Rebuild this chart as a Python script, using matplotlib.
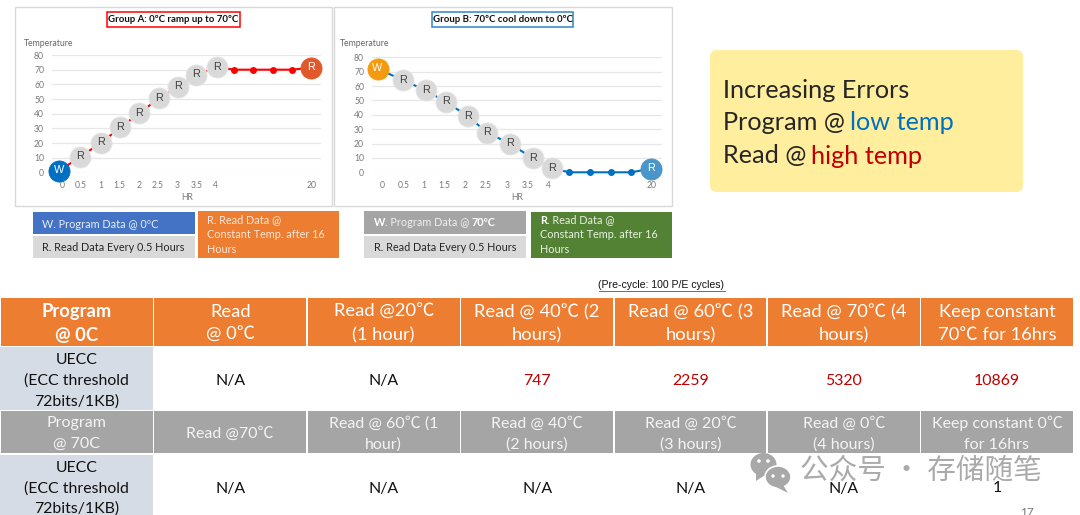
import matplotlib
matplotlib.use("Agg")
import matplotlib.pyplot as plt
from matplotlib.patches import Rectangle, FancyBboxPatch, Ellipse, Polygon

plt.rcParams['font.family'] = ['Lato', 'Noto Sans CJK SC', 'DejaVu Sans']

W, H = 1080, 515

# ---- chart data ----
hr_labels = ['0', '0.5', '1', '1.5', '2', '2.5', '3', '3.5', '4', '', '', '', '', '20']
y_ticks = [0, 10, 20, 30, 40, 50, 60, 70, 80]

a_pos = [-0.16, 0.94, 2.03, 3.04, 4.0, 5.05, 6.02, 7.0, 8.07, 8.98, 9.97, 11.0, 11.98, 12.95]
a_temp = [1, 10.7, 20.2, 30.7, 40.2, 50.5, 58.4, 66.4, 71.6, 70, 70, 70, 70, 71.4]
a_tags = ['W', 'R', 'R', 'R', 'R', 'R', 'R', 'R', 'R', '', '', '', '', 'R']

b_pos = [-0.25, 1.0, 2.08, 3.05, 4.13, 5.05, 6.15, 7.27, 8.2, 9.03, 10.03, 11.03, 12.03, 13.0]
b_temp = [72, 64, 57, 49, 39, 27.6, 20, 9.7, 2.8, 0, 0, 0, 0, 2.5]
b_tags = a_tags

# ---- table data ----
col_edges = [0, 153.5, 307, 460.5, 614, 767, 920.5, 1073.5]
row_edges = [297.5, 346.5, 410.5, 454, 530]
head_a = ['Program\n@ 0C', 'Read\n@ 0℃', 'Read @20℃\n(1 hour)', 'Read @ 40℃ (2\nhours)',
          'Read @ 60℃ (3\nhours)', 'Read @ 70℃ (4\nhours)', 'Keep constant\n70℃ for 16hrs']
vals_a = ['N/A', 'N/A', '747', '2259', '5320', '10869']
head_b = ['Program\n@ 70C', 'Read @70℃', 'Read @ 60℃ (1\nhour)', 'Read @ 40℃\n(2 hours)',
          'Read @ 20℃\n(3 hours)', 'Read @ 0℃\n(4 hours)', 'Keep constant 0℃\nfor 16hrs']
vals_b = ['N/A', 'N/A', 'N/A', 'N/A', 'N/A', '1']
row_label = 'UECC\n(ECC threshold\n72bits/1KB)'

fig = plt.figure(figsize=(W / 100, H / 100), dpi=100, facecolor='white')
bg = fig.add_axes([0, 0, 1, 1])
bg.set_xlim(0, W)
bg.set_ylim(H, 0)
bg.axis('off')


def box(ax, x0, y0, x1, y1, fc, ec='none', lw=0, z=1):
    ax.add_patch(Rectangle((x0, y0), x1 - x0, y1 - y0, fc=fc, ec=ec, lw=lw, zorder=z))


# panels
box(bg, 14.5, 7, 331.5, 206, 'white', '#D9D9D9', 1)
box(bg, 333.5, 7, 671.5, 206, 'white', '#D9D9D9', 1)


def chart(x0, x1, y80, y0, pos, temp, tags, line, first, last):
    ax = fig.add_axes([x0 / W, 1 - y0 / H, (x1 - x0) / W, (y0 - y80) / H], facecolor='none')
    ax.set_xlim(-0.5, 13.5)
    ax.set_ylim(0, 80)
    ax.set_yticks(y_ticks)
    ax.set_xticks(range(14))
    ax.set_xticklabels(hr_labels)
    ax.grid(axis='y', color='#E7E7E7', lw=0.9)
    ax.set_axisbelow(True)
    for s in ax.spines.values():
        s.set_visible(False)
    ax.tick_params(length=0, labelsize=6.2, labelcolor='#7A7A7A', pad=6)
    ax.tick_params(axis='y', pad=6)
    ax.plot(pos, temp, color=line, lw=1.5, clip_on=False, zorder=3)
    for p, t, tag in zip(pos, temp, tags):
        if not tag:
            ax.plot([p], [t], 'o', ms=4.0, color=line, zorder=4, clip_on=False)
        else:
            c = first if tag == 'W' else '#D9D9D9'
            tc = 'white' if tag == 'W' else '#404040'
            if p == pos[-1]:
                c, tc = last, 'white'
            ax.plot([p], [t], 'o', ms=15.2, color=c, mec='#E6E6E6' if c == '#D9D9D9' else c,
                    mew=0.6, zorder=5, clip_on=False)
            ax.text(p, t + 0.5, tag, ha='center', va='center', fontsize=7.8, color=tc, zorder=6,
                    family='Liberation Sans')
    return ax


chart(52.4, 321.3, 55, 172.5, a_pos, a_temp, a_tags, '#FF0000', '#0070C0', '#E0592A')
chart(372.4, 661.6, 57.3, 172.3, b_pos, b_temp, b_tags, '#0070C0', '#F59A0E', '#4A96C8')

for x, y, s in [(24, 43, 'Temperature'), (340, 44, 'Temperature')]:
    bg.text(x, y, s, fontsize=6.2, color='#666666', va='center', ha='left', zorder=7)
for x in (187, 517):
    bg.text(x, 197.5, 'HR', fontsize=6.2, color='#7A7A7A', va='center', ha='center', zorder=7)

# chart titles
box(bg, 107, 12, 240, 27, 'white', '#FF0000', 1.1)
bg.text(173.5, 19.8, 'Group A: 0ºC ramp up to 70ºC', fontsize=6.9, fontweight='bold',
        ha='center', va='center', color='#111111')
box(bg, 432, 12, 573, 27, 'white', '#2E86C8', 1.1)
bg.text(502.5, 19.8, 'Group B: 70ºC cool down to 0ºC', fontsize=6.9, fontweight='bold',
        ha='center', va='center', color='#111111')

# legend boxes
box(bg, 33, 212, 195, 233.5, '#4472C4')
box(bg, 33, 236, 195, 258, '#D9D9D9')
box(bg, 198, 211, 339, 258, '#ED7D31')
box(bg, 364, 211, 526, 233.5, '#A5A5A5')
box(bg, 364, 236, 526, 258, '#D9D9D9')
box(bg, 531, 212, 672, 258, '#548235')
LG = 7.8
bg.text(41.5, 224, 'W. Program Data @ 0ºC', fontsize=LG, color='#E8EEF8', va='center')
bg.text(41.5, 247.3, 'R. Read Data Every 0.5 Hours', fontsize=LG, color='#262626', va='center')
bg.text(373.5, 247.3, 'R. Read Data Every 0.5 Hours', fontsize=LG, color='#262626', va='center')
for y, s in zip((220, 234.5, 249.5), ('R. Read Data @', 'Constant Temp. after 16', 'Hours')):
    bg.text(207, y, s, fontsize=LG, color='#FBE6D8', va='center')
lines_g = ('Read Data @', 'Constant Temp. after 16', 'Hours')
t0 = bg.text(540, 220, 'R', fontsize=LG, fontweight='bold', color='white', va='center')
bg.annotate('. ' + lines_g[0], xy=(1, 0), xycoords=t0, va='bottom', fontsize=LG, color='#E8F0E0')
bg.text(540, 234.5, lines_g[1], fontsize=LG, color='#E8F0E0', va='center')
bg.text(540, 249.5, lines_g[2], fontsize=LG, color='#E8F0E0', va='center')
t1 = bg.text(373.5, 223, 'W', fontsize=LG, fontweight='bold', color='white', va='center')
t2 = bg.annotate('. Program Data @ ', xy=(1, 0), xycoords=t1, va='bottom', fontsize=LG, color='#F0F0F0')
bg.annotate('70ºC', xy=(1, 0), xycoords=t2, va='bottom', fontsize=LG, fontweight='bold', color='white')

# yellow note
bg.add_patch(FancyBboxPatch((716, 56), 301, 130, boxstyle='round,pad=6,rounding_size=7', fc='#FFEE9E',
                            ec='none', zorder=1))
NOTE = 18.2
bg.text(723, 90.5, 'Increasing Errors', fontsize=NOTE, color='#262626', va='center', zorder=3)
t3 = bg.text(723, 123, 'Program @', fontsize=NOTE, color='#262626', va='center', zorder=3)
bg.annotate('low temp', xy=(1, 0), xycoords=t3, xytext=(3.6, 0), textcoords='offset points',
            va='bottom', fontsize=NOTE, color='#0070C0', zorder=3)
t4 = bg.text(723, 156, 'Read @', fontsize=NOTE, color='#262626', va='center', zorder=3)
bg.annotate('high temp', xy=(1, 0), xycoords=t4, xytext=(3, 0), textcoords='offset points',
            va='bottom', fontsize=NOTE, color='#C00000', zorder=3)

# table
bg.text(661.5, 285.5, '(Pre-cycle: 100 P/E cycles)', fontsize=7.6, family='Liberation Sans',
        color='#111111', ha='center', va='center')
bg.plot([598.5, 724.5], [290.5, 290.5], color='#555555', lw=0.6)

GAP = 0.8
for r, (cells, fc, tc) in enumerate([(head_a, '#ED7D31', 'white'), (None, None, None),
                                     (head_b, '#A5A5A5', '#F4F4F4'), (None, None, None)]):
    ya, yb = row_edges[r], row_edges[r + 1]
    ym = (ya + yb) / 2
    if cells is not None:
        size = 13.2 if r == 0 else 11.5
        spacing = 1.56 if r == 0 else 1.6
        for c, s in enumerate(cells):
            box(bg, col_edges[c] + GAP, ya + GAP, col_edges[c + 1] - GAP, yb - GAP, fc)
            bg.text((col_edges[c] + col_edges[c + 1]) / 2, ym + 1.5, s, fontsize=size, color=tc,
                    ha='center', va='center', linespacing=spacing, zorder=3,
                    fontweight='bold' if (r == 0 and c == 0) else 'normal')
    else:
        vals, vc = (vals_a, '#C00000') if r == 1 else (vals_b, '#111111')
        box(bg, col_edges[0], ya + GAP, col_edges[1] - GAP, yb - GAP, '#D6DCE5')
        y_c = ym + 2.5 if r == 1 else 488.5
        bg.text(col_edges[1] / 2 - 0.5, y_c, row_label, fontsize=11.4, color='#111111',
                ha='center', va='center', linespacing=1.55, zorder=3, clip_on=True)
        for c, s in enumerate(vals):
            col = '#111111' if s == 'N/A' else vc
            bg.text((col_edges[c + 1] + col_edges[c + 2]) / 2, y_c, s, fontsize=11.4, color=col,
                    ha='center', va='center', zorder=3)

# page number and watermark
bg.text(1027, 513, '17', fontsize=8.5, color='#777777', ha='center', va='center', clip_on=True)
WM = '#A6A6A6'
bg.text(800, 470.5, '公众号 · 存储随笔', fontsize=20.6, color=WM, va='center', ha='left', alpha=0.95,
        family=['Noto Sans CJK SC', 'DejaVu Sans'], zorder=5)
bg.add_patch(Ellipse((763.5, 464.5), 26, 23, fc='#A8A8A8', ec='none', zorder=5))
bg.add_patch(Polygon([[756, 472], [756, 481], [765, 475]], fc='#A8A8A8', ec='none', zorder=5))
bg.add_patch(Ellipse((778, 477), 26, 22, fc='#A8A8A8', ec='white', lw=1.2, zorder=6))
bg.add_patch(Polygon([[783, 485], [788, 493], [776, 487]], fc='#A8A8A8', ec='none', zorder=6))
for x, y, z in [(759, 461, 6), (768, 461, 6)]:
    bg.add_patch(Ellipse((x, y), 3.6, 3.6, fc='white', ec='none', zorder=z - 0.5))
for x, y in [(773, 476), (783, 476)]:
    bg.add_patch(Ellipse((x, y), 3.4, 3.4, fc='white', ec='none', zorder=7))

fig.savefig('out.png', dpi=100)
